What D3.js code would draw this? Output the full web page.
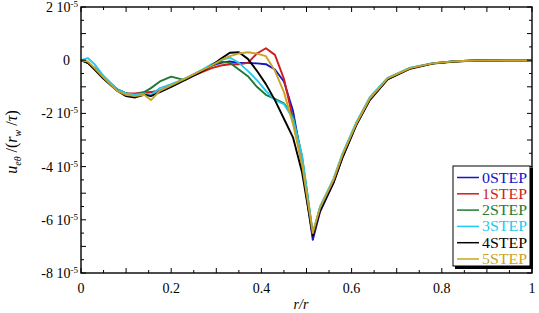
<!DOCTYPE html>
<html>
<head>
<meta charset="utf-8">
<script src="https://cdn.jsdelivr.net/npm/d3@7"></script>
<style>
  body { margin: 0; background: #fff; }
  svg text { font-family: "Liberation Serif", "Times New Roman", serif; }
</style>
</head>
<body>
<svg id="chart" width="539" height="313"></svg>
<script>
// radial positions r/r_w
var rPos = [0, 0.015, 0.03, 0.05, 0.08, 0.1, 0.12, 0.14, 0.155, 0.175, 0.2, 0.23, 0.26, 0.29, 0.31, 0.33, 0.35, 0.37, 0.39, 0.41, 0.43, 0.45, 0.47, 0.49, 0.5, 0.514, 0.53, 0.56, 0.58, 0.61, 0.64, 0.68, 0.73, 0.78, 0.83, 0.88, 0.94, 1.0];

// values in units of 1e-5
var step0 = [0, -0.1, -0.3, -0.65, -1.1, -1.25, -1.35, -1.25, -1.2, -1.15, -0.95, -0.7, -0.45, -0.2, -0.1, -0.05, -0.1, -0.1, -0.12, -0.15, -0.35, -0.8, -1.9, -3.8, -5.1, -6.75, -5.7, -4.6, -3.65, -2.45, -1.5, -0.7, -0.3, -0.12, -0.04, -0.01, 0, 0];
var step1 = [0, -0.1, -0.3, -0.65, -1.1, -1.25, -1.25, -1.2, -1.2, -1.15, -0.95, -0.7, -0.5, -0.3, -0.2, -0.15, -0.15, -0.1, 0.25, 0.45, 0.2, -0.7, -2.2, -3.9, -5.0, -6.6, -5.6, -4.55, -3.6, -2.4, -1.5, -0.7, -0.3, -0.12, -0.04, -0.01, 0, 0];
var step2 = [0, -0.1, -0.3, -0.6, -1.1, -1.25, -1.3, -1.2, -1.05, -0.8, -0.62, -0.75, -0.45, -0.2, -0.05, -0.1, -0.35, -0.6, -1.0, -1.3, -1.45, -1.62, -2.1, -3.6, -4.8, -6.5, -5.55, -4.5, -3.55, -2.4, -1.45, -0.68, -0.3, -0.12, -0.04, -0.01, 0, 0];
var step3 = [0, 0.08, -0.15, -0.6, -1.1, -1.25, -1.3, -1.25, -1.3, -1.05, -0.9, -0.7, -0.45, -0.15, 0.0, 0.1, -0.1, -0.4, -0.75, -1.15, -1.5, -1.65, -2.2, -3.6, -4.8, -6.55, -5.5, -4.45, -3.5, -2.35, -1.4, -0.66, -0.28, -0.11, -0.04, -0.01, 0, 0];
var step4 = [0, -0.1, -0.35, -0.7, -1.15, -1.35, -1.4, -1.3, -1.35, -1.2, -1.0, -0.75, -0.5, -0.2, 0.05, 0.28, 0.3, 0.05, -0.4, -0.9, -1.5, -2.2, -2.9, -4.2, -5.2, -6.6, -5.65, -4.6, -3.65, -2.45, -1.5, -0.72, -0.32, -0.13, -0.05, -0.01, 0, 0];
var step5 = [0, -0.05, -0.3, -0.65, -1.15, -1.3, -1.35, -1.3, -1.5, -1.15, -0.95, -0.7, -0.45, -0.2, 0.0, 0.15, 0.25, 0.3, 0.25, 0.15, -0.4, -1.2, -2.4, -3.9, -5.0, -6.5, -5.55, -4.5, -3.55, -2.4, -1.45, -0.68, -0.3, -0.12, -0.04, -0.01, 0, 0];

var seriesNames = ["0STEP", "1STEP", "2STEP", "3STEP", "4STEP", "5STEP"];
var seriesValues = [step0, step1, step2, step3, step4, step5];
var seriesColors = ["#1414c8", "#d01c1c", "#1e7a32", "#24c8f0", "#000000", "#c8a426"];

var xTicks = [0, 0.2, 0.4, 0.6, 0.8, 1];
var yTicks = [2, 0, -2, -4, -6, -8];

(function () {
	var svg = d3.select("#chart");
	var iLeft = 81, iRight = 532, iTop = 7, iBottom = 273;

	var x = d3.scaleLinear().domain([0, 1]).range([iLeft, iRight]);
	var y = d3.scaleLinear().domain([-8, 2]).range([iBottom, iTop]);

	// curves
	var line = d3.line()
		.x(function (d) { return x(d[0]); })
		.y(function (d) { return y(d[1]); });

	seriesValues.forEach(function (aVals, i) {
		svg.append("path")
			.datum(rPos.map(function (r, j) { return [r, aVals[j]]; }))
			.attr("d", line)
			.attr("fill", "none")
			.attr("stroke", seriesColors[i])
			.attr("stroke-width", 1.9)
			.attr("stroke-linejoin", "round");
	});

	// ticks (inward, all four sides)
	var gTicks = svg.append("g").attr("stroke", "#000").attr("stroke-width", 1);
	d3.range(0, 1.0001, 0.05).forEach(function (v) {
		var len = Math.abs(Math.round(v * 10) - v * 10) < 1e-6 ? 5 : 3;
		gTicks.append("line").attr("x1", x(v)).attr("x2", x(v)).attr("y1", iBottom).attr("y2", iBottom - len);
		gTicks.append("line").attr("x1", x(v)).attr("x2", x(v)).attr("y1", iTop).attr("y2", iTop + len);
	});
	d3.range(-8, 2.0001, 0.5).forEach(function (v) {
		var len = Math.abs(Math.round(v) - v) < 1e-6 ? 5 : 3;
		gTicks.append("line").attr("x1", iLeft).attr("x2", iLeft + len).attr("y1", y(v)).attr("y2", y(v));
		gTicks.append("line").attr("x1", iRight).attr("x2", iRight - len).attr("y1", y(v)).attr("y2", y(v));
	});

	// frame
	svg.append("rect")
		.attr("x", iLeft).attr("y", iTop)
		.attr("width", iRight - iLeft).attr("height", iBottom - iTop)
		.attr("fill", "none").attr("stroke", "#000").attr("stroke-width", 1.4);

	// x tick labels
	svg.append("g").selectAll("text").data(xTicks).enter().append("text")
		.attr("x", function (d) { return x(d); })
		.attr("y", 293)
		.attr("text-anchor", "middle")
		.attr("font-size", 14)
		.text(function (d) { return d === 0 || d === 1 ? String(d) : d.toFixed(1); });

	// y tick labels
	yTicks.forEach(function (v) {
		var t = svg.append("text")
			.attr("y", y(v) + 5)
			.attr("font-size", 14)
			.attr("text-anchor", "end");
		if (v === 0) {
			t.attr("x", 70).text("0");
		} else {
			t.attr("x", 78);
			t.append("tspan").text(v + " 10");
			t.append("tspan").attr("font-size", 9).attr("dy", -5).text("-5");
		}
	});

	// axis titles
	svg.append("text")
		.attr("x", 301).attr("y", 309)
		.attr("text-anchor", "middle")
		.attr("font-size", 14)
		.attr("font-style", "italic")
		.text("r/r");

	var yl = svg.append("text")
		.attr("transform", "translate(17,142) rotate(-90)")
		.attr("text-anchor", "middle")
		.attr("font-size", 16);
	yl.append("tspan").attr("font-style", "italic").text("u");
	yl.append("tspan").attr("font-size", 10).attr("dy", 4).attr("font-style", "italic").text("eθ");
	yl.append("tspan").attr("dy", -4).text(" /(");
	yl.append("tspan").attr("font-style", "italic").text("r");
	yl.append("tspan").attr("font-size", 10).attr("dy", 4).attr("font-style", "italic").text("w");
	yl.append("tspan").attr("dy", -4).text(" /");
	yl.append("tspan").attr("font-style", "italic").text("τ");
	yl.append("tspan").text(")");

	// legend
	var lg = svg.append("g");
	lg.append("rect").attr("x", 455).attr("y", 168).attr("width", 78).attr("height", 101).attr("fill", "#000");
	lg.append("rect").attr("x", 453).attr("y", 166).attr("width", 77).attr("height", 100)
		.attr("fill", "#fff").attr("stroke", "#000").attr("stroke-width", 1);
	seriesNames.forEach(function (sName, i) {
		var yy = 177.5 + i * 16.3;
		lg.append("line").attr("x1", 457).attr("x2", 479).attr("y1", yy).attr("y2", yy)
			.attr("stroke", seriesColors[i]).attr("stroke-width", 1.5);
		lg.append("text").attr("x", 482).attr("y", yy + 5)
			.attr("font-size", 14)
			.attr("fill", seriesColors[i])
			.attr("textLength", 45).attr("lengthAdjust", "spacingAndGlyphs")
			.text(sName);
	});
})();
</script>
</body>
</html>
